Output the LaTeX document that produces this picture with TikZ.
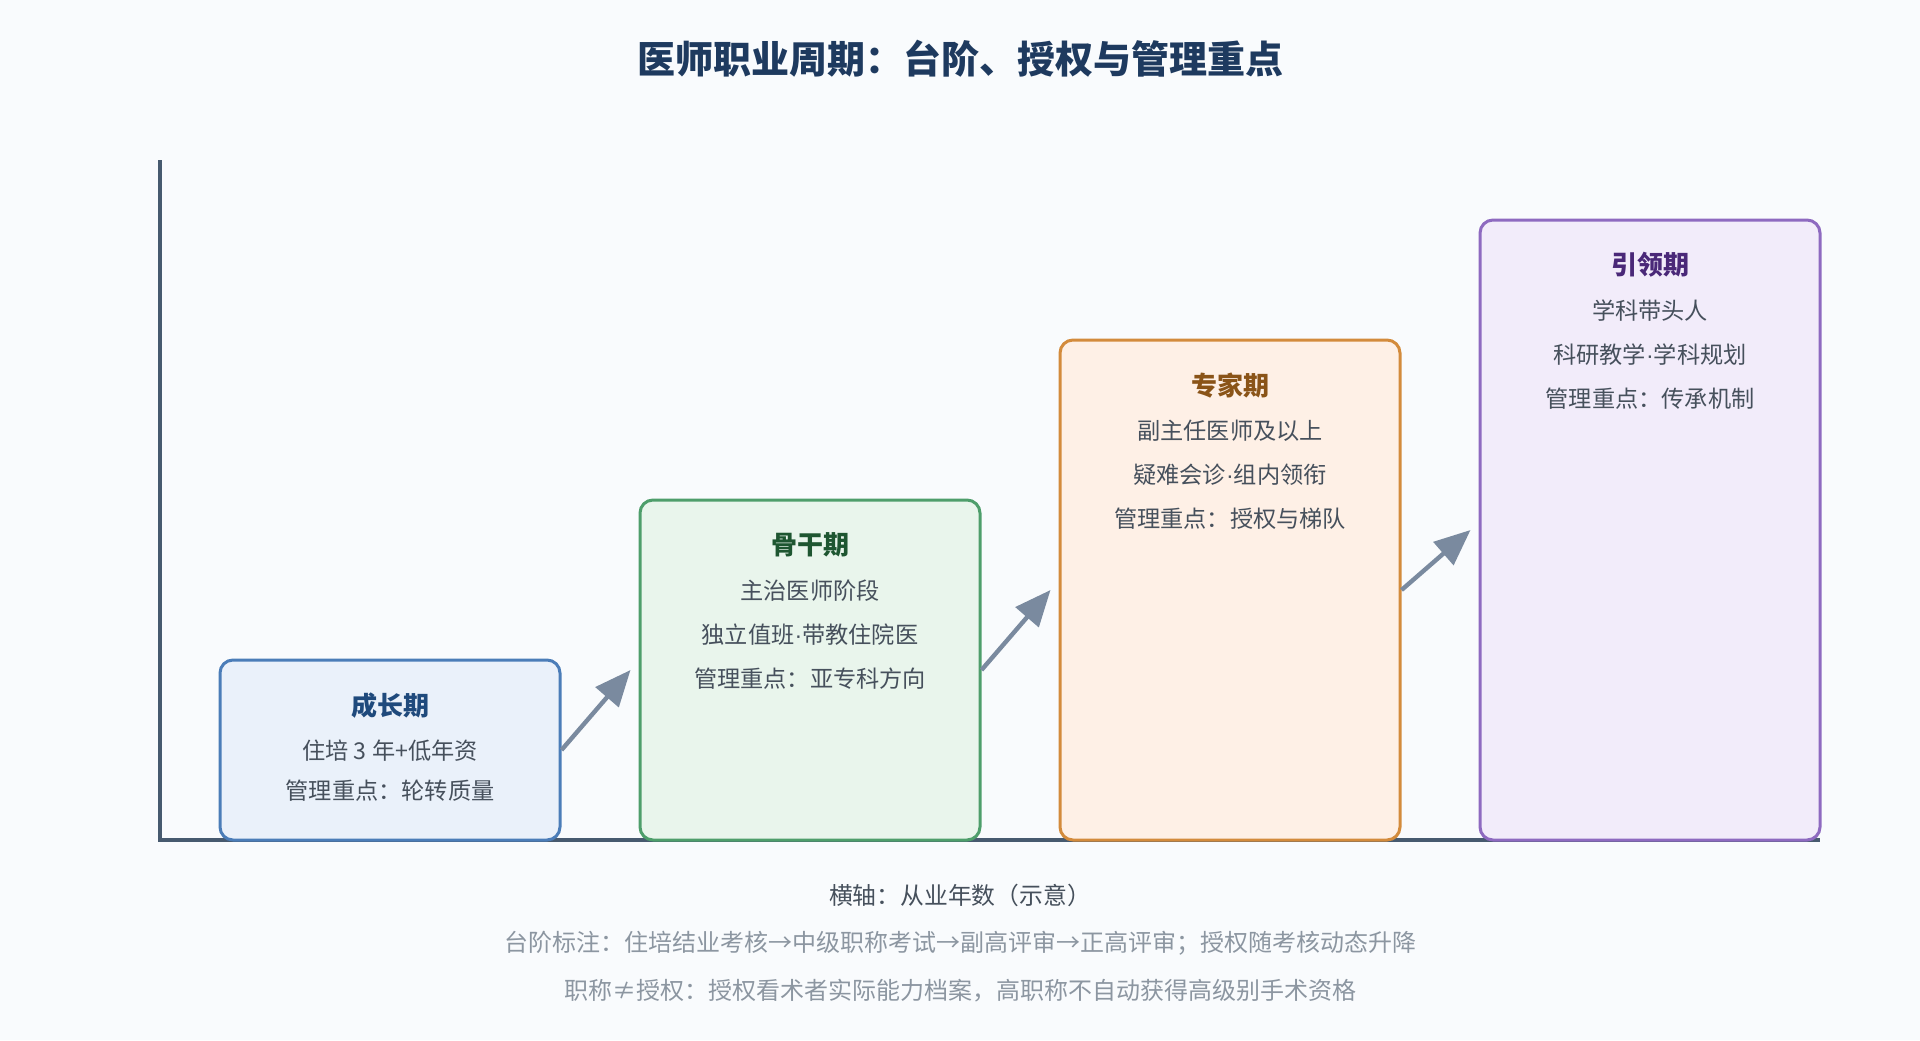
\documentclass[tikz,border=0pt]{standalone}
\usepackage{fontspec}
\setmainfont{Noto Sans CJK SC}
\newfontfamily\dotfont{Liberation Sans}
\newcommand{\sepdot}{{\dotfont ·}}
\usetikzlibrary{positioning, arrows.meta}
\definecolor{pagebg}{HTML}{F9FBFD}
\definecolor{headtext}{HTML}{1E3A5F}
\definecolor{bodytext}{HTML}{46505C}
\definecolor{notetext}{HTML}{8C96A1}
\definecolor{axisgrey}{HTML}{475A6F}
\definecolor{arrowgrey}{HTML}{7A8A9F}
\definecolor{growline}{HTML}{4B7DB8}
\definecolor{growfill}{HTML}{EAF1FA}
\definecolor{growhead}{HTML}{1F4A7C}
\definecolor{coreline}{HTML}{4E9E6B}
\definecolor{corefill}{HTML}{E9F5EC}
\definecolor{corehead}{HTML}{1E5631}
\definecolor{expertline}{HTML}{D38B3C}
\definecolor{expertfill}{HTML}{FEF0E6}
\definecolor{experthead}{HTML}{8A5418}
\definecolor{leadline}{HTML}{8E6AC0}
\definecolor{leadfill}{HTML}{F2ECFA}
\definecolor{leadhead}{HTML}{4A2878}
\tikzset{
stagebox/.style={draw, rounded corners=6.5pt, line width=1.5pt, minimum width=170pt, inner sep=0pt}, % one step of the stair
growbox/.style={stagebox, draw=growline, fill=growfill, minimum height=90pt},
corebox/.style={stagebox, draw=coreline, fill=corefill, minimum height=170pt},
expertbox/.style={stagebox, draw=expertline, fill=expertfill, minimum height=250pt},
leadbox/.style={stagebox, draw=leadline, fill=leadfill, minimum height=310pt},
stagetitle/.style={font=\bfseries\fontsize{13pt}{15pt}\selectfont}, % name of the step
stageline/.style={font=\fontsize{11.6pt}{14pt}\selectfont, text=bodytext}, % lines under the name
noteline/.style={font=\fontsize{12pt}{14pt}\selectfont, text=notetext},
axisline/.style={draw=axisgrey, line width=2pt},
steparrow/.style={-{Triangle[length=18pt, width=15pt]}, line width=2.2pt, draw=arrowgrey, fill=arrowgrey}, % arrow between two steps
}

\begin{document}
\begin{tikzpicture}[x=0.5pt, y=-0.5pt]
    \fill[pagebg] (0,0) rectangle (1920,1040);
    \useasboundingbox (0,0) rectangle (1920,1040);
    \node[font=\bfseries\fontsize{19pt}{22pt}\selectfont, text=headtext] (title) at (960,59) {医师职业周期：台阶、授权与管理重点};
    % axes
    \coordinate (ytop) at (160,160);
    \coordinate (origin) at (160,840);
    \coordinate (xend) at (1820,840);
    \draw[axisline] (ytop) -- (origin) -- (xend);
    % steps
    \node[growbox] (grow) at (390,750) {};
    \node[corebox, right of=grow, node distance=210pt, yshift=40pt] (core) {};
    \node[expertbox, right of=core, node distance=210pt, yshift=40pt] (expert) {};
    \node[leadbox, right of=expert, node distance=210pt, yshift=30pt] (lead) {};
    % texts in the steps
    \node[stagetitle, text=growhead] (growname) at ([yshift=-23.5pt]grow.north) {成长期};
    \node[stageline, below of=growname, node distance=22.5pt] (grow1) {住培 3 年+低年资};
    \node[stageline, below of=grow1, node distance=20pt] (grow2) {管理重点：轮转质量};
    \node[stagetitle, text=corehead] (corename) at ([yshift=-23.3pt]core.north) {骨干期};
    \node[stageline, below of=corename, node distance=22.8pt] (core1) {主治医师阶段};
    \node[stageline, below of=core1, node distance=22pt] (core2) {独立值班\sepdot 带教住院医};
    \node[stageline, below of=core2, node distance=22pt] (core3) {管理重点：亚专科方向};
    \node[stagetitle, text=experthead] (expertname) at ([yshift=-23.3pt]expert.north) {专家期};
    \node[stageline, below of=expertname, node distance=22.8pt] (expert1) {副主任医师及以上};
    \node[stageline, below of=expert1, node distance=22pt] (expert2) {疑难会诊\sepdot 组内领衔};
    \node[stageline, below of=expert2, node distance=22pt] (expert3) {管理重点：授权与梯队};
    \node[stagetitle, text=leadhead] (leadname) at ([yshift=-23.3pt]lead.north) {引领期};
    \node[stageline, below of=leadname, node distance=22.5pt] (lead1) {学科带头人};
    \node[stageline, below of=lead1, node distance=22.2pt] (lead2) {科研教学\sepdot 学科规划};
    \node[stageline, below of=lead2, node distance=22pt] (lead3) {管理重点：传承机制};
    % arrows
    \draw[steparrow] (grow.east) -- ([xshift=-4pt]core.west);
    \draw[steparrow] (core.east) -- ([xshift=-4pt]expert.west);
    \draw[steparrow] (expert.east) -- ([xshift=-4pt]lead.west);
    % notes
    \node[stageline, font=\fontsize{11.9pt}{14pt}\selectfont] (xlabel) at (960,895) {横轴：从业年数（示意）};
    \node[noteline, below of=xlabel, node distance=24pt] (note1) {台阶标注：住培结业考核→中级职称考试→副高评审→正高评审；授权随考核动态升降};
    \node[noteline, below of=note1, node distance=24pt] (note2) {职称≠授权：授权看术者实际能力档案，高职称不自动获得高级别手术资格};
\end{tikzpicture}
\end{document}
